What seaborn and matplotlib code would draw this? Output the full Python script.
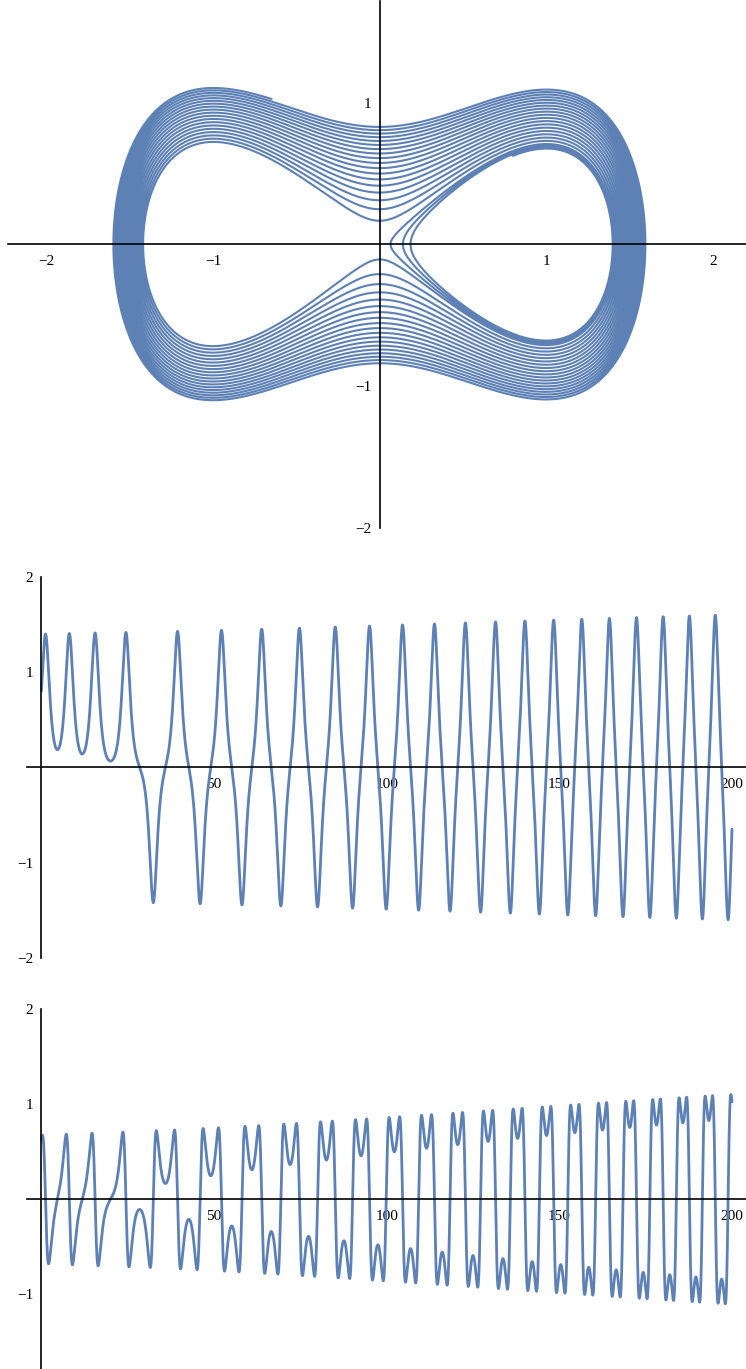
import matplotlib
matplotlib.use("Agg")
import matplotlib.pyplot as plt
from matplotlib.ticker import MultipleLocator, FixedLocator
import seaborn as sns
import numpy as np
import pandas as pd

# Duffing oscillator x'' = x - x^3 + eps*(1 - E/E_sat)*x'  (slow, saturating energy pumping)
x_start = [0.8, 0.6247]
eps = [0.0058]
e_sat = [0.75]
t_span = [0.0, 200.0]
dt = 0.01

# tick labels
phase_xticks = [-2, -1, 1, 2]
phase_yticks = [-2, -1, 1]
time_xticks = [50, 100, 150, 200]
top_yticks = [-2, -1, 1, 2]
bot_yticks = [-1, 1, 2]

sns.set_theme(style="white")
plt.rcParams['font.family'] = ['Liberation Serif', 'DejaVu Serif']
line_color = "#5E81B5"


def rhs(s):
    x, v = s
    energy = 0.5 * v * v - 0.5 * x * x + 0.25 * x ** 4
    return np.array([v, x - x ** 3 + eps[0] * (1 - energy / e_sat[0]) * v])


n = int(round((t_span[1] - t_span[0]) / dt))
t = np.linspace(t_span[0], t_span[1], n + 1)
sol = np.zeros((n + 1, 2))
sol[0] = x_start
for i in range(n):
    s = sol[i]
    k1 = rhs(s)
    k2 = rhs(s + 0.5 * dt * k1)
    k3 = rhs(s + 0.5 * dt * k2)
    k4 = rhs(s + dt * k3)
    sol[i + 1] = s + dt / 6 * (k1 + 2 * k2 + 2 * k3 + k4)

df = pd.DataFrame({"t": t, "x": sol[:, 0], "y": sol[:, 1]})

W, H = 746, 1369
fig = plt.figure(figsize=(W / 100, H / 100), dpi=100)


def px_axes(left, top, right, bottom):
    return fig.add_axes([left / W, 1 - bottom / H, (right - left) / W, (bottom - top) / H])


def style_axes(ax, xpad, ypad):
    for side in ["top", "right"]:
        ax.spines[side].set_visible(False)
    for side in ["left", "bottom"]:
        ax.spines[side].set_position(("data", 0))
        ax.spines[side].set_color("black")
        ax.spines[side].set_linewidth(1.2)
    ax.tick_params(which="major", direction="in", length=6, width=1.1, color="black",
                   labelsize=11, labelcolor="black")
    ax.tick_params(which="minor", direction="in", length=3, width=0.9, color="black")
    ax.tick_params(axis="x", which="major", pad=xpad)
    ax.tick_params(axis="y", which="major", pad=ypad)
    ax.set_xlabel("")
    ax.set_ylabel("")
    ax.patch.set_alpha(0)


# --- phase portrait ---
ax1 = px_axes(0, 0, 746, 530)
sns.lineplot(data=df, x="x", y="y", sort=False, estimator=None, ax=ax1,
             color=line_color, linewidth=1.5)
ax1.set_xlim(-379.7 / 166.5, (746 - 379.7) / 166.5)
ax1.set_ylim((244.3 - 530) / 141.7, 244.3 / 141.7)
style_axes(ax1, 8, 6)
ax1.spines["bottom"].set_bounds(-2.23, 2.2)
ax1.spines["left"].set_bounds(-2.0, 1.72)
ax1.xaxis.set_major_locator(FixedLocator(phase_xticks))
ax1.yaxis.set_major_locator(FixedLocator(phase_yticks))
ax1.xaxis.set_minor_locator(MultipleLocator(0.2))
ax1.yaxis.set_minor_locator(MultipleLocator(0.2))

# --- x(t) ---
ax2 = px_axes(0, 565, 746, 965)
sns.lineplot(data=df, x="t", y="x", estimator=None, ax=ax2, color=line_color, linewidth=2)
ax2.set_xlim(-41.4 / 3.453, (746 - 41.4) / 3.453)
ax2.set_ylim((767.3 - 965) / 95.3, (767.3 - 565) / 95.3)
style_axes(ax2, 8, 6)
ax2.spines["bottom"].set_bounds(-4.2, 204)
ax2.spines["left"].set_bounds(-2, 2)
ax2.xaxis.set_major_locator(FixedLocator(time_xticks))
ax2.yaxis.set_major_locator(FixedLocator(top_yticks))
ax2.xaxis.set_minor_locator(MultipleLocator(10))
ax2.yaxis.set_minor_locator(MultipleLocator(0.2))

# --- y(t) ---
ax3 = px_axes(0, 1000, 746, 1369)
sns.lineplot(data=df, x="t", y="y", estimator=None, ax=ax3, color=line_color, linewidth=2)
ax3.set_xlim(-41.4 / 3.453, (746 - 41.4) / 3.453)
ax3.set_ylim((1199.3 - 1369) / 95.0, (1199.3 - 1000) / 95.0)
style_axes(ax3, 8, 6)
ax3.spines["bottom"].set_bounds(-4.2, 204)
ax3.spines["left"].set_bounds(-1.8, 2)
ax3.xaxis.set_major_locator(FixedLocator(time_xticks))
ax3.yaxis.set_major_locator(FixedLocator(bot_yticks))
ax3.xaxis.set_minor_locator(MultipleLocator(10))
ax3.yaxis.set_minor_locator(MultipleLocator(0.2))

fig.savefig("out.png", dpi=100)
